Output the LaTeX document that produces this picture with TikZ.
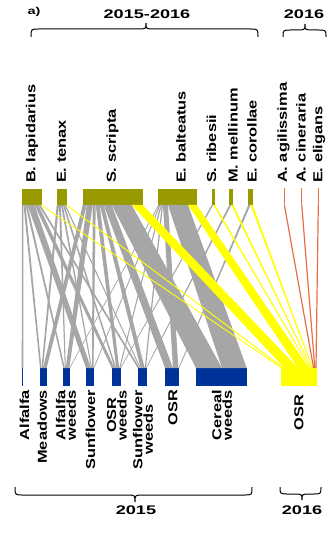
\documentclass[tikz,border=0pt]{standalone}
\usepackage{fontspec}
\setmainfont{Liberation Sans}
\newfontfamily\lblfont{Liberation Sans}[FakeStretch=1.26]
\newfontfamily\yearfont{Liberation Sans}[FakeStretch=1.45]
\usetikzlibrary{calc}

\definecolor{poll}{RGB}{153,153,0}
\definecolor{plant}{RGB}{0,51,153}
\definecolor{webgrey}{RGB}{166,166,166}
\definecolor{webyellow}{RGB}{255,255,0}
\definecolor{weborange}{RGB}{230,110,70}

% band between a pollinator bar (top) and a plant bar (bottom);
% offsets are measured from the left edge of each bar
\newcommand\weblink[7]{%
  \fill[#1] ($(#2.south west)+(#3,0)$) -- ($(#2.south west)+(#4,0)$)
    -- ($(#5.north west)+(#7,0)$) -- ($(#5.north west)+(#6,0)$) -- cycle;}

% curly brace: x-left, x-right, x-cusp, y-tip, y-body, y-cusp
\newcommand\yearbrace[6]{%
  \draw[bracepen] (#1,#4) .. controls (#1,#5) .. ({#1+8},#5) -- ({#3-8},#5)
    .. controls (#3,#5) .. (#3,#6) .. controls (#3,#5) .. ({#3+8},#5)
    -- ({#2-8},#5) .. controls (#2,#5) .. (#2,#4);}

\begin{document}
\begin{tikzpicture}[x=1pt,y=-1pt,
  topbar/.style={fill=poll, draw=none, inner sep=0, outer sep=0, minimum height=16pt},
  botbar/.style={fill=plant, draw=none, inner sep=0, outer sep=0, minimum height=18pt},
  osrbar/.style={fill=webyellow, draw=none, inner sep=0, outer sep=0, minimum height=18pt},
  beebar/.style={fill=weborange, draw=none, inner sep=0, outer sep=0, minimum height=16pt, minimum width=1.2pt},
  beeline/.style={draw=weborange, line width=1.2pt},
  lblbase/.style={inner sep=0, outer sep=0, rotate=90, align=center,
    font=\lblfont\bfseries\fontsize{13}{10.5}\selectfont},
  toplbl/.style={lblbase, anchor=west},
  botlbl/.style={lblbase, anchor=east},
  yearlbl/.style={inner sep=0, font=\yearfont\bfseries\fontsize{12.5}{14}\selectfont},
  bracepen/.style={draw=black, line width=1pt},
]
\useasboundingbox (0,0) rectangle (334,534);

% ---- pollinator bars (top) ----
\node[topbar, minimum width=20pt]   (BL) at (32,197) {};
\node[topbar, minimum width=10.6pt] (ET) at (62,197) {};
\node[topbar, minimum width=60pt]   (SS) at (112.7,197) {};
\node[topbar, minimum width=38.4pt] (EB) at (177.5,197) {};
\node[topbar, minimum width=3.3pt]  (SR) at (213.35,197) {};
\node[topbar, minimum width=4pt]    (MM) at (231.3,197) {};
\node[topbar, minimum width=4.4pt]  (EC) at (250.5,197) {};

% ---- plant bars (bottom) ----
\node[botbar, minimum width=1.6pt]  (Alf) at (22.5,377) {};
\node[botbar, minimum width=6.7pt]  (Mea) at (43.35,377) {};
\node[botbar, minimum width=6.7pt]  (AW)  at (66.65,377) {};
\node[botbar, minimum width=8.3pt]  (Sun) at (90.15,377) {};
\node[botbar, minimum width=9.3pt]  (OW)  at (116.35,377) {};
\node[botbar, minimum width=9pt]    (SW)  at (142.2,377) {};
\node[botbar, minimum width=14.3pt] (OSR) at (172.15,377) {};
\node[botbar, minimum width=50.7pt] (CW)  at (221.35,377) {};
\node[osrbar, minimum width=35.7pt] (O16) at (298.85,377) {};

% ---- 2015 interactions ----
\weblink{webgrey}{BL}{0}{1.5}{Alf}{0}{1.6}
\weblink{webgrey}{BL}{1.5}{3.5}{Mea}{0}{1.5}
\weblink{webgrey}{ET}{0}{2.3}{Mea}{1.5}{3}
\weblink{webgrey}{SS}{0}{4}{Mea}{3}{6.7}
\weblink{webgrey}{BL}{3.5}{5.5}{AW}{0}{1.5}
\weblink{webgrey}{ET}{2.3}{4.3}{AW}{1.5}{2.5}
\weblink{webgrey}{SS}{4}{10}{AW}{2.5}{6}
\weblink{webgrey}{EB}{0}{1}{AW}{6}{6.7}
\weblink{webgrey}{BL}{5.5}{12.5}{Sun}{0}{5}
\weblink{webgrey}{ET}{4.3}{6.1}{Sun}{5}{6}
\weblink{webgrey}{SS}{10}{13}{Sun}{6}{7.5}
\weblink{webgrey}{EB}{1}{2.2}{Sun}{7.5}{8.3}
\weblink{webgrey}{BL}{12.5}{16.5}{OW}{0}{3}
\weblink{webgrey}{ET}{6.1}{7.8}{OW}{3}{4.5}
\weblink{webgrey}{SS}{13}{17}{OW}{4.5}{7.5}
\weblink{webgrey}{EB}{2.2}{3.4}{OW}{7.5}{8.5}
\weblink{webgrey}{SR}{0}{1.5}{OW}{8.5}{9.3}
\weblink{webgrey}{BL}{16.5}{18.5}{SW}{0}{2}
\weblink{webgrey}{ET}{7.8}{9.1}{SW}{2}{3}
\weblink{webgrey}{SS}{17}{21}{SW}{3}{7}
\weblink{webgrey}{EB}{3.4}{4.7}{SW}{7}{8.2}
\weblink{webgrey}{MM}{0}{2}{SW}{8.2}{9}
\weblink{webgrey}{SS}{21}{29}{OSR}{0}{8}
\weblink{webgrey}{EB}{4.7}{9.7}{OSR}{8}{13.4}
\weblink{webgrey}{EC}{0}{2.2}{OSR}{13.4}{14.3}
\weblink{webgrey}{SS}{29}{49}{CW}{0}{26}
\weblink{webgrey}{EB}{9.7}{29.7}{CW}{26}{50.7}

% ---- 2016 interactions with oilseed rape ----
\weblink{webyellow}{BL}{18.5}{20}{O16}{0}{1.7}
\weblink{webyellow}{ET}{9.1}{10.6}{O16}{1.7}{3.4}
\weblink{webyellow}{SS}{49}{60}{O16}{3.4}{17}
\weblink{webyellow}{EB}{29.7}{38.4}{O16}{17}{28}
\weblink{webyellow}{SR}{1.5}{3.3}{O16}{28.5}{29.5}
\weblink{webyellow}{MM}{2}{4}{O16}{29.8}{30.8}
\weblink{webyellow}{EC}{2.2}{4.4}{O16}{31}{32}

% ---- solitary bees (2016 only) ----
\node[beebar] (AA) at (284.3,196.5) {};
\node[beebar] (AC) at (301.7,196.5) {};
\node[beebar] (EE) at (318.3,196.5) {};
\coordinate (oAA) at ($(O16.north west)+(32.6,0)$);
\coordinate (oAC) at ($(O16.north west)+(33.8,0)$);
\coordinate (oEE) at ($(O16.north west)+(35,0)$);
\draw[beeline] (AA.south) -- (oAA);
\draw[beeline] (AC.south) -- (oAC);
\draw[beeline] (EE.south) -- (oEE);

% ---- pollinator names ----
\node[toplbl] (tBL) at (32,183)  {B. lapidarius};
\node[toplbl] (tET) at (61.5,183){E. tenax};
\node[toplbl] (tSS) at (112.5,183){S. scripta};
\node[toplbl] (tEB) at (181,183) {E. balteatus};
\node[toplbl] (tSR) at (211.5,183){S. ribesii};
\node[toplbl] (tMM) at (233,183) {M. mellinum};
\node[toplbl] (tEC) at (252,183) {E. corollae};
\node[toplbl] (tAA) at (283.5,183){A. agilissima};
\node[toplbl] (tAC) at (301,183) {A. cineraria};
\node[toplbl] (tEE) at (319,183) {E. eligans};

% ---- plant names ----
\node[botlbl] (bAlf) at (24.5,390) {Alfalfa};
\node[botlbl] (bMea) at (42.3,390) {Meadows};
\node[botlbl] (bAW)  at (66,390)   {Alfalfa\\weeds};
\node[botlbl] (bSun) at (90.5,390) {Sunflower};
\node[botlbl] (bOW)  at (117,390)  {OSR\\weeds};
\node[botlbl] (bSW)  at (143,390)  {Sunflower\\weeds};
\node[botlbl] (bOSR) at (173,390)  {OSR};
\node[botlbl] (bCW)  at (222,390)  {Cereal\\weeds};
\node[botlbl] (bO16) at (299,395)  {OSR};

% ---- year braces ----
\node[yearlbl, font=\yearfont\bfseries\fontsize{10}{12}\selectfont] (panel) at (34,11.5) {a)};
\yearbrace{31}{258}{146}{37}{29}{23}
\node[yearlbl] (yTop) at (147,14) {2015-2016};
\yearbrace{283}{326}{305}{37}{30}{24}
\node[yearlbl] (yTopR) at (304,14) {2016};
\yearbrace{15}{252}{135}{487}{495}{502}
\node[yearlbl] (yBot) at (136,510) {2015};
\yearbrace{280}{321}{302}{487}{494}{500}
\node[yearlbl] (yBotR) at (302,510) {2016};
\end{tikzpicture}
\end{document}
